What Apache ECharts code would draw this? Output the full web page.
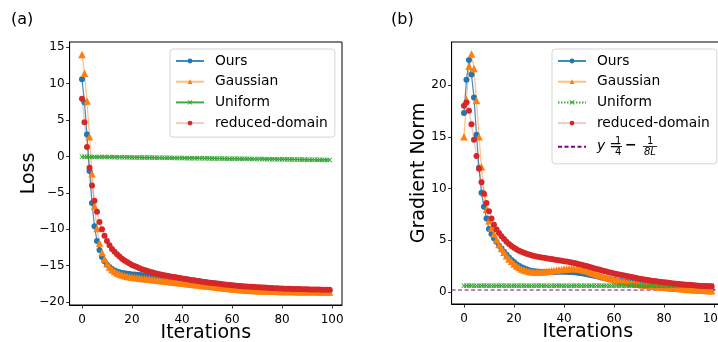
<!DOCTYPE html>
<html><head><meta charset="utf-8">
<script src="https://cdn.jsdelivr.net/npm/echarts@6/dist/echarts.min.js"></script>
<style>html,body{margin:0;padding:0;background:#fff}#c{width:718px;height:342px}</style>
</head><body><div id="c"></div>
<script>
// ---------- data ----------
const iterations = Array.from({length: 100}, (_, i) => i);
const xTicks = [0, 20, 40, 60, 80, 100];
const lossTicks = [-20, -15, -10, -5, 0, 5, 10, 15];
const gradTicks = [0, 5, 10, 15, 20];
const seriesNames = ['Ours', 'Gaussian', 'Uniform', 'reduced-domain'];
const boundName = 'y = 1/4 − 1/(8L)';
const boundValue = 0.2;

const lossOurs = [10.6,7.4,3.0,-2.0,-6.4,-9.6,-11.6,-12.85,-13.8,-14.4,
-14.85,-15.2,-15.45,-15.65,-15.8,-15.9,-16.0,-16.05,-16.1,-16.15,
-16.2,-16.23,-16.26,-16.29,-16.32,-16.35,-16.38,-16.41,-16.44,-16.47,
-16.5,-16.53,-16.56,-16.59,-16.62,-16.65,-16.68,-16.71,-16.74,-16.77,
-16.8,-16.85,-16.9,-16.95,-17.0,-17.05,-17.1,-17.15,-17.2,-17.25,
-17.3,-17.35,-17.4,-17.45,-17.5,-17.55,-17.59,-17.63,-17.67,-17.71,
-17.75,-17.78,-17.81,-17.84,-17.87,-17.9,-17.93,-17.96,-17.99,-18.02,
-18.05,-18.07,-18.09,-18.11,-18.13,-18.15,-18.17,-18.19,-18.21,-18.23,
-18.25,-18.26,-18.27,-18.28,-18.29,-18.3,-18.31,-18.32,-18.33,-18.34,
-18.35,-18.36,-18.37,-18.37,-18.38,-18.38,-18.39,-18.39,-18.4,-18.4];

const lossGaussian = [14.0,11.4,7.6,2.7,-2.4,-6.8,-9.9,-11.9,-13.2,-14.1,
-14.75,-15.2,-15.55,-15.8,-16.0,-16.15,-16.27,-16.37,-16.45,-16.52,
-16.58,-16.63,-16.67,-16.71,-16.75,-16.79,-16.83,-16.87,-16.91,-16.95,
-16.99,-17.03,-17.07,-17.11,-17.15,-17.19,-17.23,-17.27,-17.31,-17.35,
-17.39,-17.43,-17.47,-17.51,-17.55,-17.59,-17.63,-17.67,-17.71,-17.75,
-17.79,-17.83,-17.87,-17.91,-17.95,-17.99,-18.03,-18.07,-18.11,-18.15,
-18.19,-18.22,-18.25,-18.28,-18.31,-18.34,-18.36,-18.38,-18.4,-18.42,
-18.44,-18.45,-18.46,-18.47,-18.48,-18.49,-18.5,-18.51,-18.52,-18.53,
-18.54,-18.54,-18.55,-18.55,-18.56,-18.56,-18.57,-18.57,-18.57,-18.58,
-18.58,-18.58,-18.59,-18.59,-18.59,-18.6,-18.6,-18.6,-18.6,-18.6];

const lossUniform = [-0.05,-0.05,-0.06,-0.06,-0.07,-0.07,-0.08,-0.08,-0.08,-0.09,
-0.09,-0.10,-0.10,-0.11,-0.11,-0.12,-0.12,-0.12,-0.13,-0.13,
-0.14,-0.14,-0.15,-0.15,-0.16,-0.16,-0.16,-0.17,-0.17,-0.18,
-0.18,-0.19,-0.19,-0.20,-0.20,-0.20,-0.21,-0.21,-0.22,-0.22,
-0.23,-0.23,-0.24,-0.24,-0.24,-0.25,-0.25,-0.26,-0.26,-0.27,
-0.27,-0.28,-0.28,-0.28,-0.29,-0.29,-0.30,-0.30,-0.31,-0.31,
-0.32,-0.32,-0.32,-0.33,-0.33,-0.34,-0.34,-0.35,-0.35,-0.36,
-0.36,-0.36,-0.37,-0.37,-0.38,-0.38,-0.39,-0.39,-0.40,-0.40,
-0.40,-0.41,-0.41,-0.42,-0.42,-0.43,-0.43,-0.44,-0.44,-0.44,
-0.45,-0.45,-0.46,-0.46,-0.47,-0.47,-0.48,-0.48,-0.48,-0.49];

const lossReduced = [7.9,4.7,1.3,-1.55,-4.0,-6.1,-7.6,-9.0,-10.0,-10.9,
-11.6,-12.2,-12.7,-13.1,-13.45,-13.75,-14.05,-14.3,-14.5,-14.7,
-14.9,-15.05,-15.2,-15.35,-15.48,-15.6,-15.71,-15.82,-15.92,-16.01,
-16.1,-16.18,-16.25,-16.32,-16.39,-16.45,-16.51,-16.57,-16.63,-16.69,
-16.75,-16.81,-16.87,-16.93,-16.99,-17.05,-17.1,-17.15,-17.2,-17.25,
-17.3,-17.34,-17.38,-17.42,-17.46,-17.5,-17.54,-17.58,-17.62,-17.66,
-17.7,-17.73,-17.76,-17.79,-17.82,-17.85,-17.87,-17.89,-17.91,-17.93,
-17.95,-17.97,-17.99,-18.01,-18.03,-18.05,-18.07,-18.09,-18.11,-18.13,
-18.15,-18.16,-18.17,-18.18,-18.19,-18.2,-18.21,-18.22,-18.23,-18.24,
-18.25,-18.26,-18.27,-18.27,-18.28,-18.28,-18.29,-18.29,-18.3,-18.3];

const gradOurs = [17.3,20.5,22.4,21.0,18.8,15.2,12.0,9.6,8.25,7.1,
6.1,5.6,5.2,4.85,4.5,4.2,3.9,3.6,3.35,3.1,
2.9,2.7,2.55,2.4,2.3,2.2,2.12,2.06,2.01,1.98,
1.96,1.95,1.94,1.94,1.94,1.94,1.95,1.95,1.96,1.96,
1.96,1.96,1.95,1.93,1.91,1.88,1.85,1.81,1.77,1.72,
1.67,1.62,1.57,1.52,1.47,1.42,1.37,1.32,1.27,1.22,
1.18,1.14,1.1,1.06,1.02,0.99,0.96,0.93,0.9,0.87,
0.84,0.81,0.78,0.75,0.72,0.7,0.68,0.66,0.64,0.62,
0.6,0.58,0.56,0.54,0.52,0.5,0.48,0.46,0.45,0.44,
0.42,0.41,0.39,0.38,0.36,0.35,0.33,0.32,0.3,0.29];

const gradGaussian = [15.0,18.6,21.8,23.0,21.6,18.5,15.0,12.1,9.6,8.0,
6.9,6.2,5.6,5.05,4.6,4.2,3.85,3.5,3.2,2.95,
2.72,2.53,2.37,2.24,2.14,2.06,2.0,1.96,1.94,1.93,
1.93,1.94,1.96,1.99,2.02,2.05,2.09,2.13,2.16,2.19,
2.22,2.24,2.26,2.27,2.27,2.26,2.23,2.19,2.13,2.06,
1.98,1.9,1.82,1.73,1.65,1.57,1.49,1.42,1.35,1.28,
1.22,1.16,1.1,1.05,1.0,0.95,0.91,0.87,0.83,0.79,
0.75,0.72,0.69,0.66,0.63,0.6,0.57,0.54,0.51,0.48,
0.46,0.44,0.42,0.4,0.38,0.36,0.34,0.32,0.3,0.28,
0.26,0.24,0.23,0.21,0.2,0.18,0.17,0.15,0.14,0.13];

const gradUniform = [0.62,0.62,0.63,0.62,0.62,0.61,0.62,0.62,0.63,0.62,
0.62,0.62,0.61,0.62,0.62,0.63,0.62,0.62,0.62,0.61,
0.62,0.62,0.62,0.63,0.62,0.62,0.62,0.61,0.62,0.62,
0.63,0.62,0.62,0.62,0.61,0.62,0.62,0.62,0.63,0.62,
0.62,0.62,0.61,0.62,0.62,0.63,0.62,0.62,0.62,0.61,
0.62,0.62,0.62,0.63,0.62,0.62,0.62,0.61,0.62,0.62,
0.63,0.62,0.62,0.62,0.61,0.62,0.62,0.62,0.63,0.62,
0.62,0.62,0.61,0.62,0.62,0.63,0.62,0.62,0.62,0.61,
0.62,0.62,0.62,0.63,0.62,0.62,0.62,0.61,0.62,0.62,
0.63,0.62,0.62,0.62,0.61,0.62,0.62,0.62,0.63,0.62];

const gradReduced = [18.0,18.3,17.5,16.2,14.7,13.15,11.9,10.6,9.5,8.6,
7.8,7.1,6.5,6.05,5.7,5.4,5.12,4.87,4.65,4.45,
4.28,4.13,4.0,3.89,3.79,3.7,3.62,3.55,3.49,3.44,
3.39,3.35,3.31,3.27,3.23,3.19,3.15,3.11,3.07,3.03,
2.99,2.95,2.9,2.85,2.8,2.75,2.69,2.63,2.57,2.51,
2.45,2.38,2.31,2.24,2.17,2.1,2.04,1.98,1.92,1.86,
1.8,1.75,1.7,1.65,1.6,1.55,1.5,1.45,1.4,1.35,
1.3,1.26,1.22,1.18,1.14,1.1,1.07,1.04,1.01,0.98,
0.95,0.92,0.89,0.86,0.83,0.8,0.78,0.76,0.74,0.72,
0.7,0.68,0.66,0.64,0.62,0.6,0.59,0.58,0.57,0.56];

// ---------- styling ----------
const FONT = 'DejaVu Sans';
const C = {blue: '#1f77b4', orange: '#ff7f0e', green: '#2ca02c', red: '#d62728', purple: '#800080'};
const xMark = 'path://M0,1.2L1.2,0L5,3.8L8.8,0L10,1.2L6.2,5L10,8.8L8.8,10L5,6.2L1.2,10L0,8.8L3.8,5Z';
const minus = v => (v < 0 ? '\u2212' + Math.abs(v) : String(v));
const pairs = arr => arr.map((v, i) => [iterations[i], v]);

const styles = [
  {color: C.blue, symbol: 'circle', size: 6, lineOpacity: 0.85, width: 1.2, type: 'solid'},
  {color: C.orange, symbol: 'triangle', size: 7.5, lineOpacity: 0.5, width: 1.2, type: 'solid'},
  {color: C.green, symbol: xMark, size: 5, lineOpacity: 0.9, width: 1, type: 'solid'},
  {color: C.red, symbol: 'circle', size: 6, lineOpacity: 0.25, width: 1.5, type: 'solid'}
];

function mk(name, data, idx, st, typeOverride) {
  return {
    type: 'line', name: name, xAxisIndex: idx, yAxisIndex: idx,
    data: pairs(data), symbol: st.symbol, symbolSize: st.size, showSymbol: true,
    animation: false, clip: false,
    lineStyle: {color: st.color, opacity: st.lineOpacity, width: st.width, type: typeOverride || st.type},
    itemStyle: {color: st.color, opacity: 1},
    emphasis: {disabled: true}
  };
}

const leftData = [lossOurs, lossGaussian, lossUniform, lossReduced];
const rightData = [gradOurs, gradGaussian, gradUniform, gradReduced];
const series = [];
leftData.forEach((d, k) => series.push(mk(seriesNames[k], d, 0, styles[k])));
rightData.forEach((d, k) => series.push(mk(seriesNames[k] + '#b', d, 1, styles[k], k === 2 ? [1.5, 1.5] : null)));
series.push({
  type: 'line', name: boundName, xAxisIndex: 1, yAxisIndex: 1, symbol: 'none', animation: false,
  data: [[-4.95, boundValue], [103.95, boundValue]],
  lineStyle: {color: C.purple, width: 1, type: [4, 2.5]}, itemStyle: {color: C.purple}
});

const axisCommon = {
  axisLine: {show: true, onZero: false, lineStyle: {color: '#000', width: 1}},
  splitLine: {show: false},
  axisTick: {show: true, length: 3.5, lineStyle: {color: '#000', width: 0.8}},
  axisLabel: {color: '#000', fontFamily: FONT, fontSize: 12, margin: 5},
  nameTextStyle: {color: '#000', fontFamily: FONT, fontSize: 19},
  nameMoveOverlap: false
};
function xAx(idx) {
  return Object.assign({}, axisCommon, {
    type: 'value', gridIndex: idx, min: -4.95, max: 103.95,
    name: 'Iterations', nameLocation: 'middle', nameGap: 19,
    axisTick: Object.assign({}, axisCommon.axisTick, {customValues: xTicks}),
    axisLabel: Object.assign({}, axisCommon.axisLabel, {customValues: xTicks, formatter: minus, margin: 9})
  });
}
function yAx(idx, min, max, ticks, name, gap) {
  return Object.assign({}, axisCommon, {
    type: 'value', gridIndex: idx, min: min, max: max,
    name: name, nameLocation: 'middle', nameGap: gap,
    axisTick: Object.assign({}, axisCommon.axisTick, {customValues: ticks}),
    axisLabel: Object.assign({}, axisCommon.axisLabel, {customValues: ticks, formatter: minus})
  });
}

const legendCommon = {
  orient: 'vertical', itemWidth: 28, itemHeight: 6, itemGap: 6.7,
  backgroundColor: '#fff', borderColor: '#d5d5d5', borderWidth: 1, borderRadius: 3,
  padding: [5, 7, 7, 5],
  textStyle: {color: '#000', fontFamily: FONT, fontSize: 13.8, lineHeight: 14, padding: [0, 0, 0, 6]},
  selectedMode: false
};

const option = {
  backgroundColor: '#fff',
  animation: false,
  title: [
    {text: '(a)', left: 6, top: 7, textStyle: {fontFamily: FONT, fontSize: 16, fontWeight: 'normal', color: '#000'}},
    {text: '(b)', left: 386, top: 7, textStyle: {fontFamily: FONT, fontSize: 16, fontWeight: 'normal', color: '#000'}}
  ],
  grid: [
    {left: 69.6, top: 42, width: 272.4, height: 263, outerBoundsMode: 'none', containLabel: false,
     show: true, borderColor: '#000', borderWidth: 1, backgroundColor: 'transparent'},
    {left: 451.6, top: 42, width: 272.4, height: 262, outerBoundsMode: 'none', containLabel: false,
     show: true, borderColor: '#000', borderWidth: 1, backgroundColor: 'transparent'}
  ],
  xAxis: [xAx(0), xAx(1)],
  yAxis: [
    yAx(0, -20.4, 15.7, lossTicks, 'Loss', 31),
    yAx(1, -1.15, 24.15, gradTicks, 'Gradient Norm', 23)
  ],
  legend: [
    Object.assign({}, legendCommon, {left: 170, top: 49, data: seriesNames}),
    Object.assign({}, legendCommon, {
      left: 552, top: 49,
      data: seriesNames.map(n => n + '#b').concat([{name: boundName, itemStyle: {color: 'rgba(0,0,0,0)', borderColor: 'rgba(0,0,0,0)', borderWidth: 0}}]),
      formatter: function (n) {
        if (n === boundName) return '{it|y} {eq|=}';
        return n.replace('#b', '');
      },
      textStyle: Object.assign({}, legendCommon.textStyle, {
        rich: {
          it: {fontFamily: FONT, fontStyle: 'italic', fontSize: 13.8, lineHeight: 20},
          eq: {fontFamily: FONT, fontSize: 13.8, lineHeight: 20}
        }
      })
    })
  ],
  graphic: [
    {type: 'text', left: 615, top: 136.5, z: 100, style: {text: '1', font: '10px "DejaVu Sans"', fill: '#000'}},
    {type: 'line', z: 100, shape: {x1: 614, y1: 146.5, x2: 622, y2: 146.5}, style: {stroke: '#000', lineWidth: 0.8}},
    {type: 'text', left: 615, top: 147.5, z: 100, style: {text: '4', font: '10px "DejaVu Sans"', fill: '#000'}},
    {type: 'text', left: 625, top: 138, z: 100, style: {text: '\u2212', font: 'bold 14px "DejaVu Sans"', fill: '#000'}},
    {type: 'text', left: 647, top: 136.5, z: 100, style: {text: '1', font: '10px "DejaVu Sans"', fill: '#000'}},
    {type: 'line', z: 100, shape: {x1: 643, y1: 146.5, x2: 657, y2: 146.5}, style: {stroke: '#000', lineWidth: 0.8}},
    {type: 'text', left: 644, top: 147.5, z: 100, style: {text: '8L', font: 'italic 10px "DejaVu Sans"', fill: '#000'}}
  ],
  series: series
};

const chart = echarts.init(document.getElementById('c'), null, {renderer: 'canvas'});
chart.setOption(option);
</script>
</body></html>
